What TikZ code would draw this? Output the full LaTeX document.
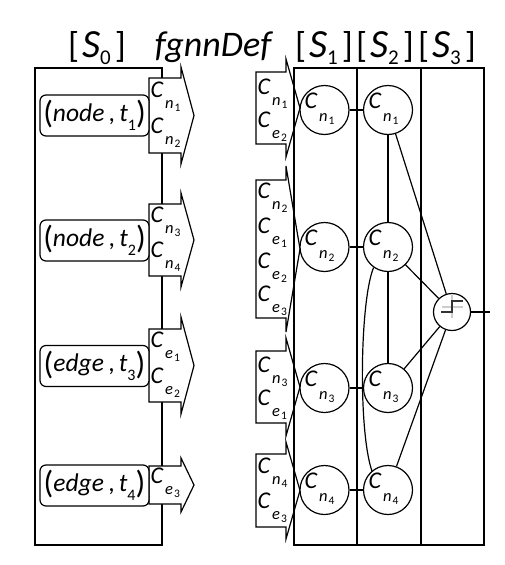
\documentclass[tikz,border=0pt]{standalone}
\usepackage{fontspec}
\setmainfont{Carlito}
\newcommand{\Csub}[3][11pt]{\textit{C}\kern1.5pt\raisebox{-#1}{\fontsize{16.5}{16.5}\selectfont\textit{#2}\kern1pt\raisebox{-3pt}{\fontsize{11.5}{11.5}\selectfont #3}}}
\newcommand{\Tup}[3]{\raisebox{-2.5pt}{\fontsize{32}{32}\selectfont(}\textit{#1}\,,\,\textit{t}\raisebox{-9pt}{\fontsize{16}{16}\selectfont #2}\raisebox{-2.5pt}{\fontsize{32}{32}\selectfont)}}
\newcommand{\Sbr}[1]{[\kern3pt\fontsize{40}{40}\selectfont\textit{S}\raisebox{-7pt}{\fontsize{21}{21}\selectfont #1}\fontsize{36}{36}\selectfont\kern4pt]}
\newcommand{\blockarrow}[6]{%
  \filldraw[fill=white] (#1,#4) -- (#2,#4) -- (#2,{#4-#6}) -- (#3,{(#4+#5)/2}) -- (#2,{#5+#6}) -- (#2,#5) -- (#1,#5) -- cycle;}
\begin{document}
\begin{tikzpicture}[x=1pt,y=-1pt, line width=1.2pt, line join=miter,
  cnode/.style={circle,draw,fill=white,line width=1.2pt,minimum size=49pt,inner sep=0pt},
  tbox/.style={draw,fill=white,rounded corners=6pt,minimum width=109pt,minimum height=41pt,inner sep=0pt,font=\fontsize{25.5}{25.5}\selectfont},
  lab/.style={inner sep=0pt,anchor=base west,font=\fontsize{24}{24}\selectfont},
  hdr/.style={inner sep=0pt,anchor=base,font=\fontsize{36}{36}\selectfont}]
\useasboundingbox (0,0) rectangle (505,565);

% headers
\node[hdr] (h0) at (97,57) {\Sbr{0}};
\node[hdr] (hdef) at (214,56) {\textit{fgnnDef}};
\node[hdr] (h1) at (324,57) {\Sbr{1}};
\node[hdr] (h2) at (385,57) {\Sbr{2}};
\node[hdr] (h3) at (447,57) {\Sbr{3}};

% left box S0
\draw (35,68) rectangle (162,545);

% left arrows
\blockarrow{149}{181}{194}{78}{153}{11}
\blockarrow{149}{181}{194}{204}{276}{11}
\blockarrow{149}{181}{194}{329}{402}{12}
\blockarrow{149}{181}{194}{466}{504}{8}

\node[lab] (la1a) at (150,97) {\Csub{n}{1}};
\node[lab] (la1b) at (150,133) {\Csub{n}{2}};
\node[lab] (la2a) at (150,222) {\Csub{n}{3}};
\node[lab] (la2b) at (150,257) {\Csub{n}{4}};
\node[lab] (la3a) at (150,347) {\Csub{e}{1}};
\node[lab] (la3b) at (150,383) {\Csub{e}{2}};
\node[lab] (la4a) at (150,483) {\Csub{e}{3}};

% rounded boxes
\node[tbox] (b1) at (94.5,115.5) {\Tup{node}{1}{}};
\node[tbox] (b2) at (94.5,240.5) {\Tup{node}{2}{}};
\node[tbox] (b3) at (94.5,366) {\Tup{edge}{3}{}};
\node[tbox] (b4) at (94.5,485.5) {\Tup{edge}{4}{}};

% right arrows
\blockarrow{256}{286}{300}{72}{144}{13}
\blockarrow{256}{286}{300}{180}{318}{14}
\blockarrow{256}{286}{300}{351}{423}{13}
\blockarrow{256}{286}{300}{454}{527}{12}

\node[lab] (ra1a) at (257,94) {\Csub{n}{1}};
\node[lab] (ra1b) at (257,127) {\Csub{e}{2}};
\node[lab] (ra2a) at (257,198) {\Csub{n}{2}};
\node[lab] (ra2b) at (257,233) {\Csub{e}{1}};
\node[lab] (ra2c) at (257,268) {\Csub{e}{2}};
\node[lab] (ra2d) at (257,301) {\Csub{e}{3}};
\node[lab] (ra3a) at (257,372) {\Csub{n}{3}};
\node[lab] (ra3b) at (257,405) {\Csub{e}{1}};
\node[lab] (ra4a) at (257,473) {\Csub{n}{4}};
\node[lab] (ra4b) at (257,508) {\Csub{e}{3}};

% right box with columns
\draw (294,68) rectangle (484,545);
\draw (357,68) -- (357,545);
\draw (421,68) -- (421,545);

% circles
\node[cnode] (s1n1) at (324.5,110) {};
\node[cnode] (s1n2) at (324.5,247) {};
\node[cnode] (s1n3) at (324.5,388) {};
\node[cnode] (s1n4) at (324.5,490) {};
\node[cnode] (s2n1) at (388,110) {};
\node[cnode] (s2n2) at (388,247) {};
\node[cnode] (s2n3) at (388,388) {};
\node[cnode] (s2n4) at (388,490) {};
\node[cnode,minimum size=37pt] (act) at (452,312) {};
\coordinate (out) at (490,312);

% circle labels
\node[lab] (l11) at (304,108) {\Csub[13pt]{n}{1}};
\node[lab] (l12) at (304,245) {\Csub[13pt]{n}{2}};
\node[lab] (l13) at (304,386) {\Csub[13pt]{n}{3}};
\node[lab] (l14) at (304,488) {\Csub[13pt]{n}{4}};
\node[lab] (l21) at (368,108) {\Csub[13pt]{n}{1}};
\node[lab] (l22) at (368,245) {\Csub[13pt]{n}{2}};
\node[lab] (l23) at (368,386) {\Csub[13pt]{n}{3}};
\node[lab] (l24) at (368,488) {\Csub[13pt]{n}{4}};

% connections
\draw (s1n1) -- (s2n1);
\draw (s1n2) -- (s2n2);
\draw (s1n3) -- (s2n3);
\draw (s1n4) -- (s2n4);
\draw (s2n1) -- (s2n2);
\draw (s2n2) -- (s2n3);
\draw (s2n2.235) .. controls (360,300) and (358,430) .. (s2n4.130);
\draw (s2n1) -- (act);
\draw (s2n2) -- (act);
\draw (s2n3) -- (act);
\draw (s2n4) -- (act);
\draw (act) -- (out);

% step symbol
\draw[gray!40, line width=2.2pt] (442,307) -- (463,307);
\draw[gray!40, line width=2.2pt] (452,295) -- (452,318);
\draw[black!80, line width=1.2pt] (441,312) -- (452,312) -- (452,301) -- (463,301);
\end{tikzpicture}
\end{document}
